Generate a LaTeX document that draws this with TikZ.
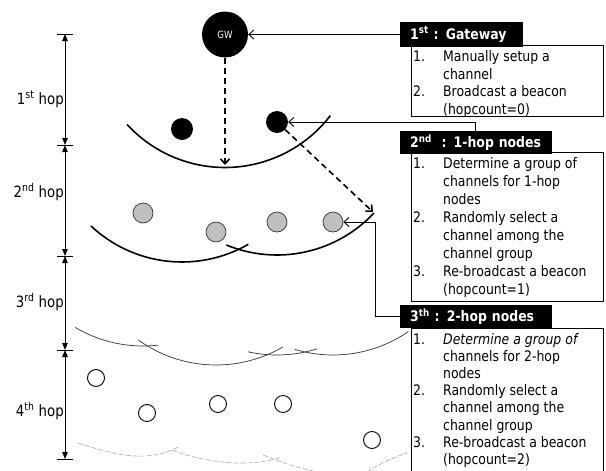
\documentclass[tikz,border=0pt]{standalone}
\usepackage{fontspec}
\setmainfont{DejaVu Sans}[FakeStretch=0.86]
\usetikzlibrary{arrows.meta,calc}
\tikzset{
  every node/.style={font=\fontsize{14.5}{17.5}\selectfont},
  blk/.style={circle, fill=black, minimum size=22pt, inner sep=0pt},
  gwnode/.style={circle, fill=black, minimum size=46pt, inner sep=0pt, text=white, font=\fontsize{10}{11}\selectfont},
  grey/.style={circle, fill=gray!50, draw=gray!40!black, line width=0.7pt, minimum size=20pt, inner sep=0pt},
  wht/.style={circle, draw=black, line width=0.9pt, minimum size=17pt, inner sep=0pt},
  hdr/.style={fill=black, text=white, font=\fontsize{14.5}{17.5}\selectfont\bfseries, anchor=west, inner xsep=10pt, inner ysep=0pt, align=left},
  bodybox/.style={draw=black, line width=0.8pt, anchor=north west, inner sep=0pt},
  bodytext/.style={anchor=base west, inner sep=0pt},
  lab/.style={anchor=base east, inner sep=0pt, font=\fontsize{15.5}{18}\selectfont},
  conn/.style={line width=0.9pt, -{Straight Barb[length=5pt,width=9pt]}},
  dasharr/.style={line width=1.6pt, dash pattern=on 6pt off 4pt, -{Straight Barb[length=5pt,width=9pt]}},
  dimline/.style={line width=0.9pt, {Triangle[length=7pt,width=5.5pt]}-{Triangle[length=7pt,width=5.5pt]}},
  tickline/.style={line width=0.9pt},
  arcA/.style={line width=1.6pt},
  arcB/.style={line width=0.7pt, draw=black!80},
  faint/.style={line width=0.6pt, draw=gray!70, dash pattern=on 5pt off 2pt},
}
\begin{document}
\begin{tikzpicture}[x=1pt,y=-1pt]
\useasboundingbox (0,0) rectangle (606,471);

% dimension line
\coordinate (y0) at (65,34);
\coordinate (y1) at (65,145);
\coordinate (y2) at (65,256);
\coordinate (y3) at (65,350);
\coordinate (y4) at (65,459);
\foreach \c in {y0,y1,y2,y3,y4}{
  \draw[tickline] ([xshift=-8pt]\c) -- ([xshift=8pt]\c);
}
\draw[dimline] (y0) -- (y1);
\draw[dimline] (y1) -- (y2);
\draw[dimline] (y2) -- (y3);
\draw[dimline] (y3) -- (y4);

\node[lab] (l1) at (64,104) {1\textsuperscript{st} hop};
\node[lab] (l2) at (64,197) {2\textsuperscript{nd} hop};
\node[lab] (l3) at (64,307) {3\textsuperscript{rd} hop};
\node[lab] (l4) at (64,416) {4\textsuperscript{th} hop};

% nodes
\node[gwnode] (gw) at (225,34.5) {GW};
\node[blk] (n1) at (182,129) {};
\node[blk] (n2) at (277,122) {};
\node[grey] (g1) at (143,213) {};
\node[grey] (g2) at (216,232) {};
\node[grey] (g3) at (277,222) {};
\node[grey] (g4) at (333,222) {};
\node[wht] (w1) at (96,378) {};
\node[wht] (w2) at (147,413) {};
\node[wht] (w3) at (218,404) {};
\node[wht] (w4) at (283,404) {};
\node[wht] (w5) at (372,440) {};

% coverage arcs
\draw[arcA] ($(gw.center)+(137.4:133)$) arc[start angle=137.4, end angle=37.6, radius=133];
\draw[arcA] ($(n1.center)+(133.2:133)$) arc[start angle=133.2, end angle=60.1, radius=133];
\draw[arcA] ($(n2.center)+(112.4:133)$) arc[start angle=112.4, end angle=43.2, radius=133];
\draw[arcB] ($(g1.center)+(120.6:133)$) arc[start angle=120.6, end angle=83.6, radius=133];
\draw[arcB] ($(g2.center)+(125.8:133)$) arc[start angle=125.8, end angle=59.8, radius=133];
\draw[arcB] ($(g3.center)+(102.6:133)$) arc[start angle=102.6, end angle=72.5, radius=133];
\draw[arcB] ($(g4.center)+(106.7:133)$) arc[start angle=106.7, end angle=55.5, radius=133];
\draw[faint] (78,443) .. controls (120,457) and (150,462) .. (178,447);
\draw[faint] (172,450) .. controls (205,463) and (250,468) .. (282,457);
\draw[faint] (263,455) .. controls (283,463) and (298,468) .. (318,472);
\draw[faint] (367,472) .. controls (380,463) and (395,457) .. (407,453);

% dashed propagation arrows
\coordinate (d1) at (225,165);
\coordinate (d2) at (373,212);
\draw[dasharr] (gw) -- (d1);
\draw[dasharr] (n2) -- (d2);

% boxes
\node[bodybox, minimum width=192pt, minimum height=71pt] (b1) at (411,45) {};
\node[bodybox, minimum width=192pt, minimum height=149pt] (b2) at (411,152) {};
\node[bodybox, minimum width=192pt, minimum height=145pt] (b3) at (411,328) {};
\node[hdr, text width=103pt, minimum height=25pt] (h1) at (400,34.5) {1\textsuperscript{st} : Gateway};
\node[hdr, text width=132pt, minimum height=23pt] (h2) at (400,142.5) {2\textsuperscript{nd}\ \ : 1-hop nodes};
\node[hdr, text width=132pt, minimum height=23pt] (h3) at (400,316.5) {3\textsuperscript{th} : 2-hop nodes};

\node[bodytext] (t1) at (413,61.5) {\fontsize{14.5}{17.6}\selectfont
\begin{tabular}[t]{@{}p{30pt}@{}l@{}}
1. & Manually setup a\\
 & channel\\
2. & Broadcast a beacon\\
 & (hopcount=0)
\end{tabular}};
\node[bodytext] (t2) at (413,168) {\fontsize{14.5}{18.1}\selectfont
\begin{tabular}[t]{@{}p{30pt}@{}l@{}}
1. & Determine a group of\\
 & channels for 1-hop\\
 & nodes\\
2. & Randomly select a\\
 & channel among the\\
 & channel group\\
3. & Re-broadcast a beacon\\
 & (hopcount=1)
\end{tabular}};
\node[bodytext] (t3) at (413,344) {\fontsize{14.5}{17.2}\selectfont
\begin{tabular}[t]{@{}p{30pt}@{}l@{}}
1. & \itshape Determine a group of\\
 & channels for 2-hop\\
 & nodes\\
2. & Randomly select a\\
 & channel among the\\
 & channel group\\
3. & Re-broadcast a beacon\\
 & (hopcount=2)
\end{tabular}};

% connectors from the boxes
\coordinate (k2) at (475,122);
\coordinate (k3) at (375,222);
\draw[conn] (h1.west) -- (gw.east);
\draw[conn] (h2.north -| k2) |- (n2.east);
\draw[line width=0.9pt] (h3.west) -| (k3);
\draw[conn] (k3) -- (g4.east);
\end{tikzpicture}
\end{document}
